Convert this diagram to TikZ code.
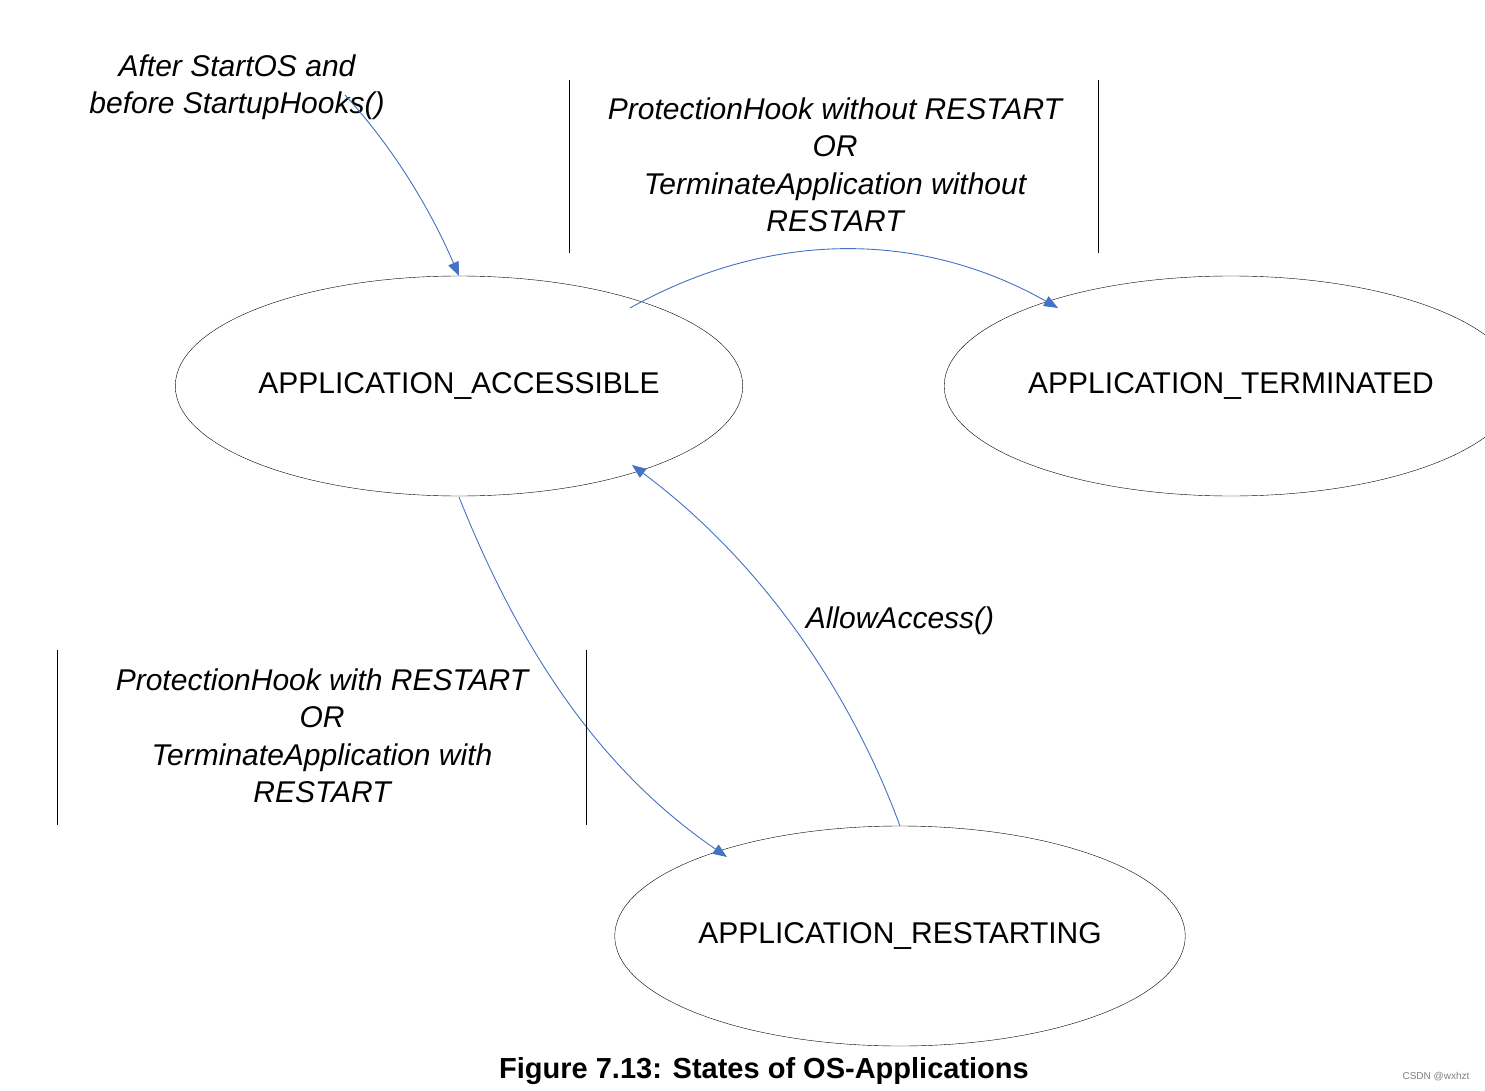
\documentclass[tikz,border=0pt]{standalone}
\usepackage{fontspec}
\setmainfont{Liberation Sans}
\usetikzlibrary{arrows.meta,shapes.geometric}
\definecolor{arr}{RGB}{68,114,196}
\begin{document}
\begin{tikzpicture}[x=1pt,y=-1pt,
  st/.style={draw,ellipse,minimum width=486pt,minimum height=220pt,inner sep=0pt,font=\fontsize{30}{37}\selectfont},
  lab/.style={align=center,font=\fontsize{30}{37.5}\selectfont\itshape},
  tr/.style={draw=arr,line width=0.9pt,-{Triangle[length=14pt,width=11pt]}},
  vl/.style={line width=0.9pt}]
\useasboundingbox[fill=white] (0,0) rectangle (1485,1091);
\node[st] (acc) at (459,386) {APPLICATION\_ACCESSIBLE};
\node[st] (ter) at (1231,386) {APPLICATION\_TERMINATED};
\node[st] (res) at (900,936) {APPLICATION\_RESTARTING};
\node[lab] (l1) at (237,87) {After StartOS and\\before StartupHooks()};
\node[lab] (l2) at (835,165) {ProtectionHook without RESTART\\OR\\TerminateApplication without\\RESTART};
\node[lab] (l3) at (322,736) {ProtectionHook with RESTART\\OR\\TerminateApplication with\\RESTART};
\node[lab] (l4) at (900,621) {AllowAccess()};
\coordinate (s1) at (345,95);
\coordinate (e1) at (459,276);
\draw[tr] (s1) .. controls (400,155) and (435,220) .. (e1);
\coordinate (s2) at (630,308);
\coordinate (e2) at (1058,308);
\draw[tr] (s2) .. controls (770,230) and (920,230) .. (e2);
\coordinate (s3) at (459,497);
\coordinate (e3) at (727,857);
\draw[tr] (s3) .. controls (520,650) and (600,770) .. (e3);
\coordinate (s4) at (900,826);
\coordinate (e4) at (632,465);
\draw[tr] (s4) .. controls (850,690) and (760,560) .. (e4);
\coordinate (v1a) at (569,80); \coordinate (v1b) at (569,253);
\coordinate (v2a) at (1098,80); \coordinate (v2b) at (1098,253);
\coordinate (v3a) at (57,650); \coordinate (v3b) at (57,825);
\coordinate (v4a) at (586,650); \coordinate (v4b) at (586,825);
\draw[vl] (v1a)--(v1b); \draw[vl] (v2a)--(v2b);
\draw[vl] (v3a)--(v3b); \draw[vl] (v4a)--(v4b);
\node[font=\fontsize{29}{30}\selectfont\bfseries] (cap) at (764,1071) {Figure 7.13: States of OS-Applications};
\node[font=\fontsize{10}{12}\selectfont,text=gray] (wm) at (1436,1077) {CSDN @wxhzt};
\end{tikzpicture}
\end{document}
